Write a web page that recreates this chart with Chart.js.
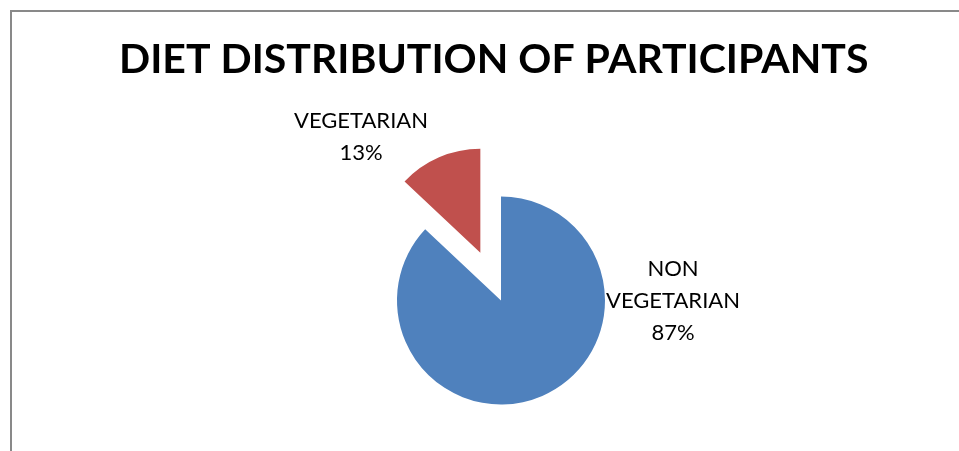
<!DOCTYPE html>
<html>
<head>
<meta charset="utf-8">
<script src="https://cdn.jsdelivr.net/npm/chart.js@4/dist/chart.umd.min.js"></script>
<style>
  html, body { margin: 0; padding: 0; background: #fff; }
  .frame {
    position: absolute; left: 10px; top: 10px; width: 949px; height: 441px;
    border-top: 2px solid #898989; border-left: 2px solid #898989;
  }
  #dietChart { position: absolute; left: 0; top: 0; }
</style>
</head>
<body>
<div class="frame"></div>
<canvas id="dietChart" width="959" height="451"></canvas>
<script>
const categories = ["NON VEGETARIAN", "VEGETARIAN"];
const shares = [87, 13];
const sliceColors = ["#4F81BD", "#C0504D"];
// how far each slice is pulled out, as % of the radius
const explode = [0, 50];

// pull exploded slices away from the centre along their mid angle
const explodePlugin = {
  id: "explode",
  afterDatasetsUpdate(chart) {
    chart.getDatasetMeta(0).data.forEach((arc, i) => {
      const d = arc.outerRadius * explode[i] / 100;
      const mid = (arc.startAngle + arc.endAngle) / 2;
      arc.x += Math.cos(mid) * d;
      arc.y += Math.sin(mid) * d;
    });
  },
};

// category name + percentage, placed beside the pie
const sliceLabels = {
  id: "sliceLabels",
  afterDatasetsDraw(chart, args, opts) {
    const { ctx, chartArea } = chart;
    const cx = (chartArea.left + chartArea.right) / 2;
    const cy = (chartArea.top + chartArea.bottom) / 2;
    const total = shares.reduce((a, b) => a + b, 0);
    ctx.save();
    ctx.font = opts.font;
    ctx.fillStyle = "#000";
    ctx.textAlign = "center";
    ctx.textBaseline = "middle";
    categories.forEach((name, i) => {
      const lines = name.split(" ");
      lines.push(Math.round(shares[i] / total * 100) + "%");
      const [dx, dy] = opts.anchors[i];
      lines.forEach((t, k) => {
        ctx.fillText(t, cx + dx, cy + dy + (k - (lines.length - 1) / 2) * opts.lineHeight);
      });
    });
    ctx.restore();
  },
};

new Chart(document.getElementById("dietChart"), {
  type: "pie",
  data: {
    labels: categories,
    datasets: [{
      data: shares,
      backgroundColor: sliceColors,
      borderWidth: 0,
      radius: 104,
    }],
  },
  options: {
    responsive: false,
    animation: false,
    layout: { padding: { left: 119, right: 76, top: 0, bottom: 0 } },
    plugins: {
      legend: { display: false },
      tooltip: { enabled: false },
      title: {
        display: true,
        text: "DIET DISTRIBUTION OF PARTICIPANTS",
        align: "start",
        color: "#000",
        font: { family: "Lato", size: 41, weight: "bold", lineHeight: 1.2 },
        padding: { top: 35.6, bottom: 65.2 },
      },
      sliceLabels: {
        font: "22px Lato",
        lineHeight: 32,
        anchors: [[172, 0], [-140, -164]],
      },
    },
  },
  plugins: [explodePlugin, sliceLabels],
});
</script>
</body>
</html>
